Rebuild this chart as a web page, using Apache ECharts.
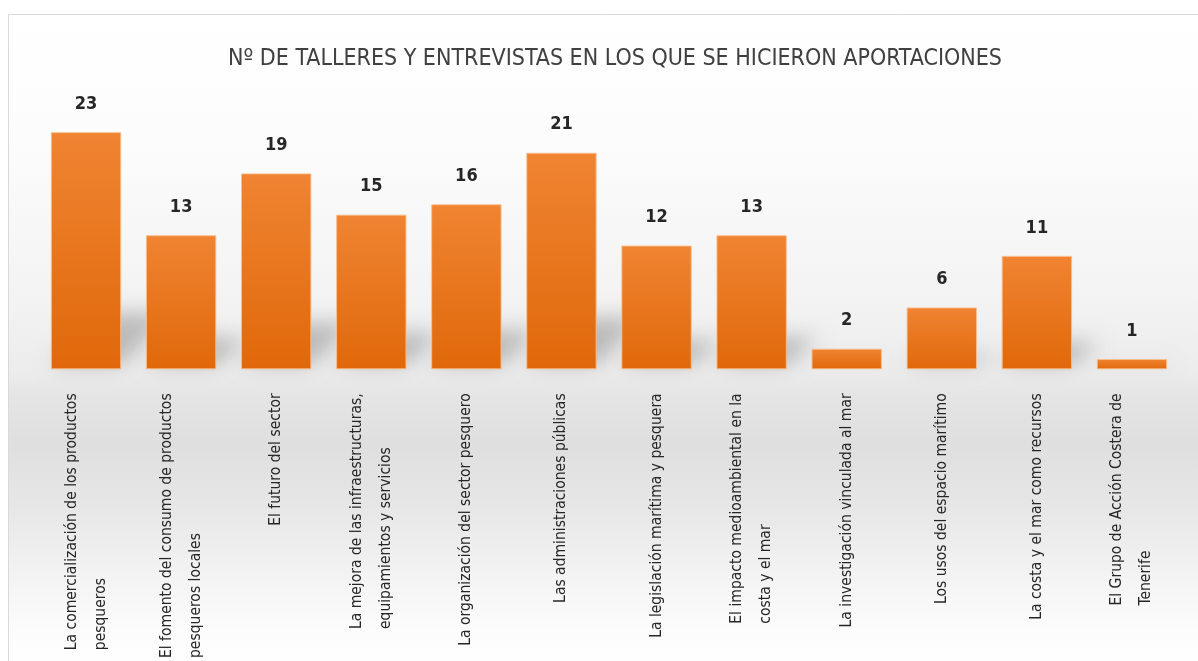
<!DOCTYPE html>
<html>
<head>
<meta charset="utf-8">
<script src="https://cdn.jsdelivr.net/npm/echarts@6/dist/echarts.min.js"></script>
<style>
  html, body { margin: 0; padding: 0; background: #ffffff; }
  #chart { width: 1198px; height: 661px; }
</style>
</head>
<body>
<div id="chart"></div>
<script>
// Topics raised in workshops and interviews (line breaks mark label wrapping)
const categories = [
  'La comercialización de los productos\npesqueros',
  'El fomento del consumo de productos\npesqueros locales',
  'El futuro del sector',
  'La mejora de las infraestructuras,\nequipamientos y servicios',
  'La organización del sector pesquero',
  'Las administraciones públicas',
  'La legislación marítima y pesquera',
  'El impacto medioambiental en la\ncosta y el mar',
  'La investigación vinculada al mar',
  'Los usos del espacio marítimo',
  'La costa y el mar como recursos',
  'El Grupo de Acción Costera de\nTenerife'
];
const counts = [23, 13, 19, 15, 16, 21, 12, 13, 2, 6, 11, 1];
const chartTitle = 'Nº DE TALLERES Y ENTREVISTAS EN LOS QUE SE HICIERON APORTACIONES';

const NARROW = "'Liberation Sans Narrow', 'DejaVu Sans Condensed', 'Arial Narrow', sans-serif";
const BAR_GAP = 0.26;

const chart = echarts.init(document.getElementById('chart'), null, { renderer: 'canvas' });

// soft perspective shadow cast behind each bar (blurred via an offset canvas shadow)
const OFF = 3000;
function renderShadow(params, api) {
  const idx = api.value(0);
  const base = api.coord([idx, 0]);
  const top = api.coord([idx, api.value(1)]);
  const cat = api.size([1, 0])[0];
  const w = cat * (1 - BAR_GAP);
  const h = base[1] - top[1];
  const x0 = base[0] - w / 2, x1 = base[0] + w / 2;
  const ty = base[1] - h * 0.24;
  const dx = h * 0.2 + 4;
  const pts = [[x0, base[1] - 4], [x1, base[1] - 4], [x1 + dx, ty], [x0 + dx, ty]];
  return {
    type: 'polygon',
    silent: true,
    shape: { points: pts.map(p => [p[0] - OFF, p[1]]) },
    style: {
      fill: '#000',
      shadowBlur: 20,
      shadowColor: 'rgba(0,0,0,0.22)',
      shadowOffsetX: OFF,
      shadowOffsetY: 0
    }
  };
}

chart.setOption({
  backgroundColor: '#ffffff',
  animation: false,
  graphic: [{
    type: 'rect',
    z: -10,
    silent: true,
    shape: { x: 8.5, y: 14.5, width: 1300, height: 660 },
    style: {
      stroke: '#d9d9d9',
      lineWidth: 1,
      fill: {
        type: 'linear', x: 0, y: 0, x2: 0, y2: 1,
        colorStops: [
          { offset: 0.00, color: '#ffffff' },
          { offset: 0.20, color: '#fcfcfc' },
          { offset: 0.43, color: '#f3f3f3' },
          { offset: 0.545, color: '#ececec' },
          { offset: 0.575, color: '#e5e5e5' },
          { offset: 0.65, color: '#dfdfdf' },
          { offset: 0.74, color: '#e6e6e6' },
          { offset: 0.83, color: '#f1f1f1' },
          { offset: 0.93, color: '#fcfcfc' },
          { offset: 1.00, color: '#ffffff' }
        ]
      }
    }
  }],
  title: {
    text: chartTitle,
    left: 610,
    textAlign: 'center',
    top: 43,
    textStyle: {
      fontFamily: NARROW,
      fontSize: 23,
      fontWeight: 'normal',
      color: '#404040'
    }
  },
  grid: { left: 38.5, right: 18.5, top: 111.5, bottom: 281, containLabel: false },
  xAxis: {
    type: 'category',
    data: categories,
    axisLine: { show: false },
    axisTick: { show: false },
    axisLabel: {
      interval: 0,
      rotate: 90,
      margin: 24,
      formatter: v => v.split('\n').map(s => '{t|' + s + '}').join('\n'),
      rich: {
        t: {
          align: 'left',
          fontFamily: NARROW,
          fontSize: 15.5,
          lineHeight: 29,
          color: '#262626'
        }
      }
    }
  },
  yAxis: {
    type: 'value',
    min: 0,
    max: 25,
    show: false,
    splitLine: { show: false }
  },
  series: [
    {
      type: 'custom',
      clip: false,
      z: 1,
      silent: true,
      renderItem: renderShadow,
      data: counts.map((v, i) => [i, v])
    },
    {
      type: 'bar',
      z: 3,
      data: counts,
      barCategoryGap: (BAR_GAP * 100) + '%',
      itemStyle: {
        borderColor: 'rgba(250,190,140,0.9)',
        borderWidth: 1,
        color: {
          type: 'linear', x: 0, y: 0, x2: 0, y2: 1,
          colorStops: [
            { offset: 0, color: '#f08432' },
            { offset: 1, color: '#e0680a' }
          ]
        }
      },
      label: {
        show: true,
        position: 'top',
        distance: 19,
        fontFamily: NARROW,
        fontSize: 18,
        fontWeight: 'bold',
        color: '#262626'
      }
    }
  ]
});
</script>
</body>
</html>
